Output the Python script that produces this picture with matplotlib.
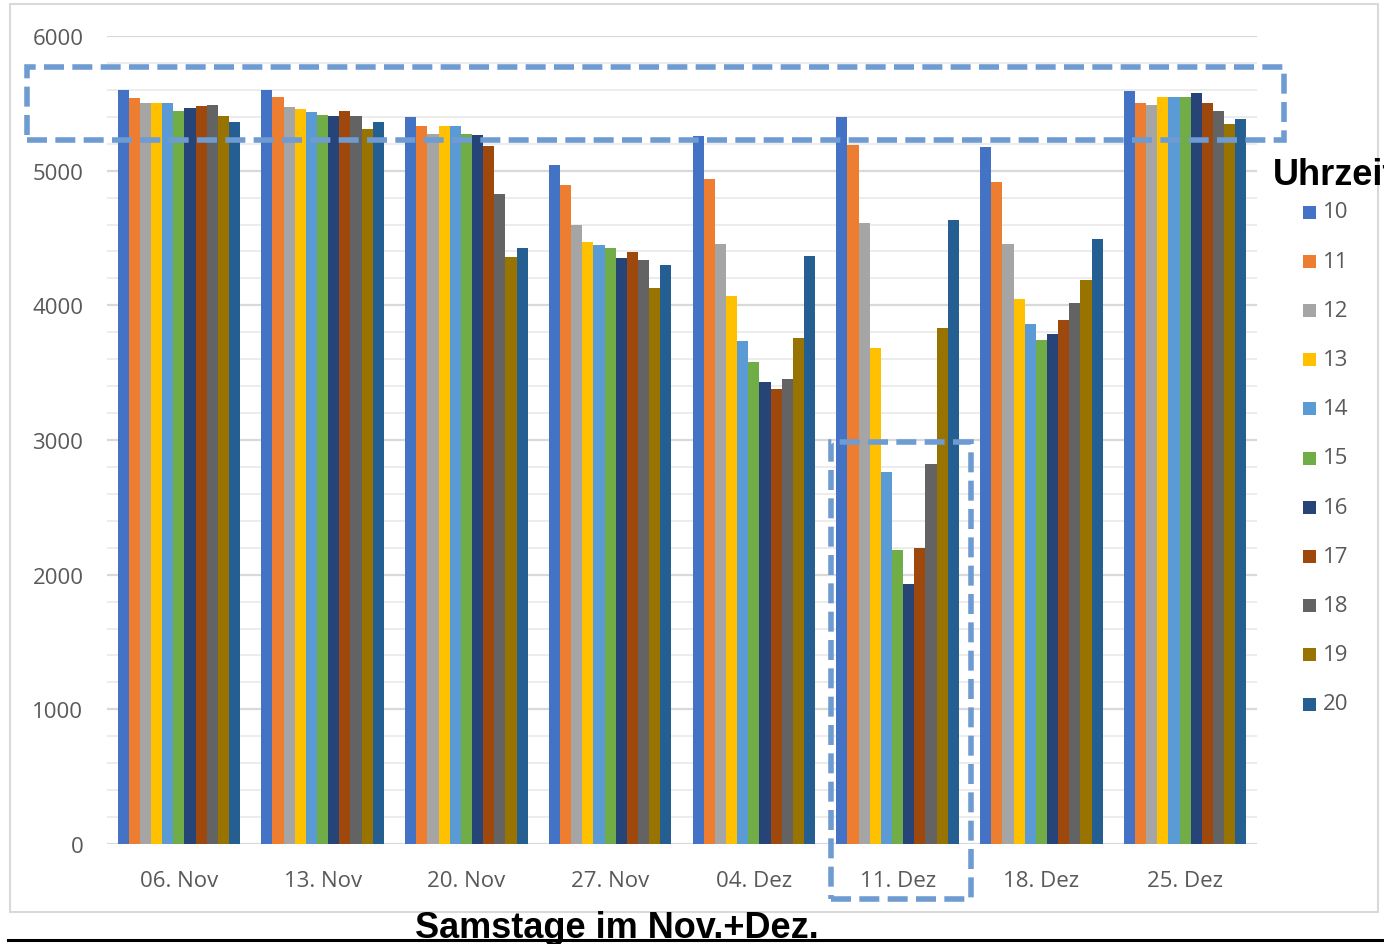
import matplotlib
matplotlib.use('Agg')
import matplotlib.pyplot as plt
import numpy as np
from matplotlib.patches import Rectangle
from matplotlib.lines import Line2D

W, H = 1384, 945

dates = ['06. Nov', '13. Nov', '20. Nov', '27. Nov', '04. Dez', '11. Dez', '18. Dez', '25. Dez']
hours = ['10', '11', '12', '13', '14', '15', '16', '17', '18', '19', '20']
colors = ['#4472C4', '#ED7D31', '#A5A5A5', '#FFC000', '#5B9BD5', '#70AD47',
          '#264478', '#9E480E', '#636363', '#997300', '#255E91']

h10 = [5600, 5600, 5400, 5040, 5255, 5400, 5175, 5590]
h11 = [5540, 5550, 5330, 4895, 4935, 5190, 4915, 5505]
h12 = [5500, 5475, 5275, 4600, 4455, 4610, 4455, 5485]
h13 = [5500, 5455, 5330, 4470, 4070, 3685, 4050, 5545]
h14 = [5500, 5435, 5330, 4445, 3735, 2760, 3860, 5545]
h15 = [5445, 5415, 5275, 4425, 3580, 2180, 3745, 5545]
h16 = [5465, 5405, 5265, 4350, 3430, 1930, 3785, 5580]
h17 = [5480, 5445, 5185, 4395, 3380, 2200, 3890, 5505]
h18 = [5490, 5405, 4830, 4340, 3455, 2825, 4015, 5445]
h19 = [5405, 5310, 4360, 4130, 3755, 3830, 4185, 5350]
h20 = [5365, 5365, 4425, 4300, 4370, 4630, 4495, 5380]
series = [h10, h11, h12, h13, h14, h15, h16, h17, h18, h19, h20]

label_font = 'Open Sans'
title_font = ['Liberation Sans', 'DejaVu Sans']
gray_txt = '#595959'
dash_col = '#6F9BD3'


def fx(x):
    return x / W


def fy(y):
    return 1 - y / H


fig = plt.figure(figsize=(W / 100, H / 100), dpi=100)
ax = fig.add_axes([fx(107), fy(845), (1257 - 107) / W, (845 - 37) / H])

x = np.arange(len(dates))
bw = 0.0775
for j, vals in enumerate(series):
    ax.bar(x + (j - 5) * bw, vals, width=bw, color=colors[j], zorder=3, linewidth=0)

ax.set_xlim(-0.5, len(dates) - 0.5)
ax.set_ylim(0, 6000)
ax.set_yticks(np.arange(0, 6001, 1000))
ax.set_yticks(np.arange(0, 6001, 200), minor=True)
ax.set_xticks(x)
ax.set_xticklabels(dates)
ax.grid(axis='y', which='major', color='#d9d9d9', lw=1.6, zorder=0)
ax.grid(axis='y', which='minor', color='#ececec', lw=1.4, zorder=0)
ax.tick_params(axis='both', which='both', length=0, labelsize=16, labelcolor=gray_txt)
ax.tick_params(axis='y', pad=17)
ax.tick_params(axis='x', pad=19)
for lab in ax.get_xticklabels() + ax.get_yticklabels():
    lab.set_fontfamily(label_font)
for s in ax.spines.values():
    s.set_visible(False)

# outer chart frame
fig.patches.append(Rectangle((fx(10), fy(913)), (1378 - 10) / W, (913 - 5) / H,
                             transform=fig.transFigure, fill=False, ec='#d9d9d9', lw=1.5))

# legend
fig.text(fx(1273), fy(185), 'Uhrzeit', fontsize=26, fontweight='bold',
         family=title_font, ha='left', va='baseline')
for j, h in enumerate(hours):
    yc = 213 + j * 49.2
    fig.patches.append(Rectangle((fx(1303), fy(yc + 6.5)), 13 / W, 13 / H,
                                 transform=fig.transFigure, color=colors[j], lw=0))
    fig.text(fx(1323), fy(yc), h, fontsize=16, color=gray_txt, family=label_font,
             ha='left', va='center')

# axis titles
fig.text(fx(617), fy(938), 'Samstage im Nov.+Dez.', fontsize=26, fontweight='bold',
         family=title_font, ha='center', va='baseline')
fig.text(fx(9), fy(470), 'Freie Plätze', fontsize=26, fontweight='bold',
         family=title_font, rotation=90, ha='right', va='center')
fig.lines.append(Line2D([fx(8), fx(1384)], [fy(941), fy(941)],
                        transform=fig.transFigure, color='black', lw=2.2))

# dashed highlight boxes
for (x0, y0, x1, y1) in [(27, 68, 1284, 141), (831, 443, 971, 900)]:
    fig.patches.append(Rectangle((fx(x0), fy(y1)), (x1 - x0) / W, (y1 - y0) / H,
                                 transform=fig.transFigure, fill=False, ec=dash_col,
                                 lw=4.0, linestyle=(0, (3.6, 1.5)), zorder=10))

fig.savefig('out.png', dpi=100)
